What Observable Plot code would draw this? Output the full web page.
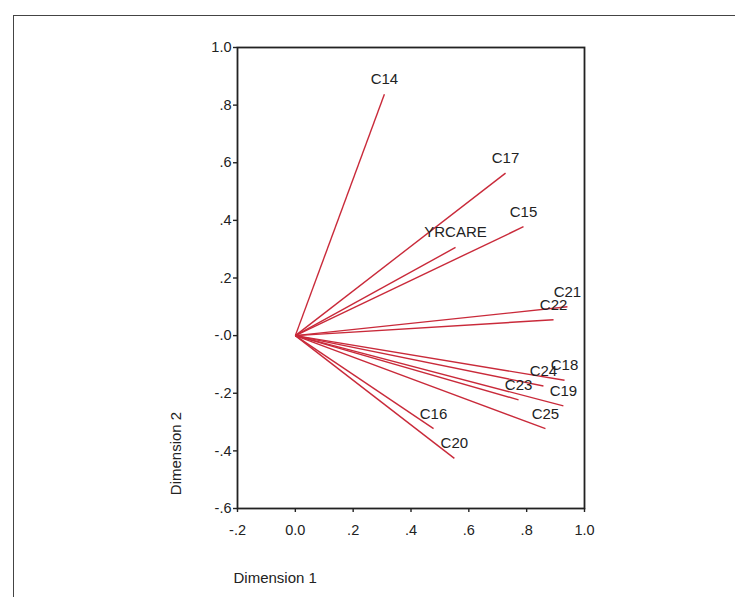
<!DOCTYPE html>
<html><head><meta charset="utf-8">
<script src="https://cdn.jsdelivr.net/npm/d3@7"></script>
<script src="https://cdn.jsdelivr.net/npm/@observablehq/plot@0.6"></script>
<style>
body{margin:0;background:#fff;}
#wrap{position:relative;width:735px;height:597px;overflow:hidden;background:#fff;}
#border{position:absolute;left:13px;top:15px;width:760px;height:620px;border-top:1.6px solid #444;border-left:1.6px solid #444;}
#wrap svg{position:absolute;left:0;top:0;}
</style></head><body><div id="wrap"><div id="border"></div></div>
<script>
const variables = ["C14","C17","C15","YRCARE","C21","C22","C18","C24","C23","C19","C25","C16","C20"];
const dim1 = [0.308, 0.727, 0.789, 0.554, 0.941, 0.893, 0.931, 0.858, 0.772, 0.927, 0.865, 0.478, 0.550];
const dim2 = [0.838, 0.564, 0.378, 0.306, 0.100, 0.055, -0.155, -0.175, -0.223, -0.244, -0.323, -0.323, -0.426];
const xTicks = [-0.2, 0, 0.2, 0.4, 0.6, 0.8, 1.0];
const xTickLabels = ["-.2", "0.0", ".2", ".4", ".6", ".8", "1.0"];
const yTicks = [-0.6, -0.4, -0.2, 0, 0.2, 0.4, 0.6, 0.8, 1.0];
const yTickLabels = ["-.6", "-.4", "-.2", "-.0", ".2", ".4", ".6", ".8", "1.0"];

const data = variables.map((v, i) => ({name: v, x: dim1[i], y: dim2[i]}));

const chart = Plot.plot({
  width: 735,
  height: 597,
  marginLeft: 237,
  marginRight: 151,
  marginTop: 47,
  marginBottom: 89,
  style: {fontFamily: "'Liberation Sans', Arial, sans-serif", fontSize: "14px", color: "#222", background: "transparent"},
  x: {domain: [-0.2, 1.0]},
  y: {domain: [-0.6, 1.0]},
  marks: [
    Plot.frame({stroke: "#222", strokeWidth: 1.8}),
    Plot.axisX({ticks: xTicks, tickFormat: d => xTickLabels[xTicks.indexOf(d)], tickSize: 4, tickPadding: 12, label: null, fontSize: 14.5, strokeWidth: 1.4}),
    Plot.axisY({ticks: yTicks, tickFormat: d => yTickLabels[yTicks.indexOf(d)], tickSize: 4, tickPadding: 2, label: null, fontSize: 14.5, strokeWidth: 1.4}),
    Plot.link(data, {x1: () => 0, y1: () => 0, x2: "x", y2: "y", stroke: "#c92a3a", strokeWidth: 1.4}),
    Plot.text(data, {x: "x", y: "y", text: "name", dy: -15, fill: "#222", fontSize: 15}),
    Plot.text(["Dimension 1"], {frameAnchor: "bottom-left", dx: -4, dy: 70, textAnchor: "start", lineAnchor: "middle", fill: "#222", fontSize: 15}),
    Plot.text(["Dimension 2"], {frameAnchor: "bottom-left", dx: -61, dy: -55, rotate: -90, textAnchor: "middle", lineAnchor: "middle", fill: "#222", fontSize: 15})
  ]
});
document.getElementById("wrap").appendChild(chart);
</script>
</body></html>
